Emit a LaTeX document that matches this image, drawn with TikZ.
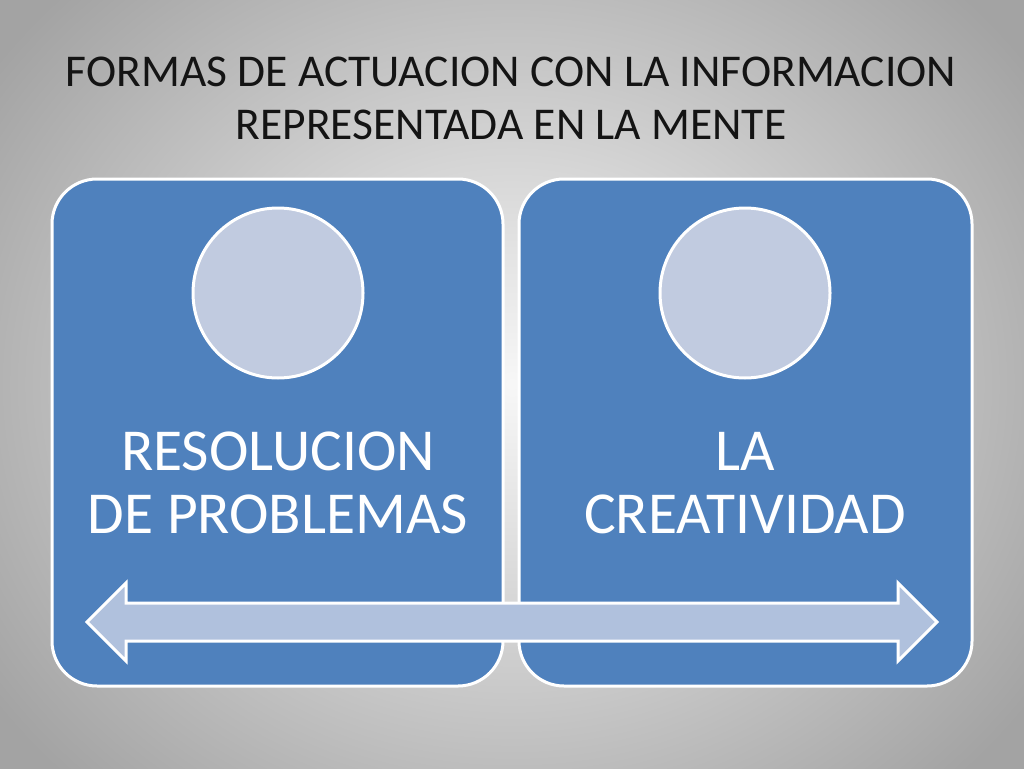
\documentclass[tikz,border=0pt]{standalone}
\usepackage{fontspec}
\setmainfont{Carlito}
\usepackage{xcolor}

\definecolor{boxblue}{HTML}{4F81BD}
\definecolor{discfill}{HTML}{C1CBE0}
\definecolor{arrowfill}{HTML}{B0C1DD}
\definecolor{titleink}{HTML}{141414}

\tikzset{
	panel/.style={draw=white, line width=3pt, fill=boxblue, rounded corners=45pt},
	disc/.style={circle, draw=white, line width=3pt, fill=discfill, minimum size=170pt, inner sep=0pt},
	label/.style={text=white, align=center, font=\fontsize{59.5}{63}\selectfont}
}

\begin{document}
\begin{tikzpicture}[x=1pt, y=-1pt]
		% background
		\useasboundingbox (0,0) rectangle (1024,768);
		\shade[inner color=gray!6, outer color=gray!72] (-120,-170) rectangle (1144,938);
		
		\node[titleink, align=center, font=\fontsize{45.5}{53}\selectfont] (title) at (511,98)
			{FORMAS DE ACTUACION CON LA INFORMACION\\REPRESENTADA EN LA MENTE};
		
		%========================================================================
		% Panels
		\draw[panel] (52,179) rectangle (503,686);
		\draw[panel] (519,179) rectangle (972,686);
		
		\node[disc] (c1) at (278,293) {};
		\node[disc] (c2) at (745,293) {};
		
		\node[label] (t1) at (278,483) {RESOLUCION\\DE PROBLEMAS};
		\node[label] (t2) at (745,483) {LA\\CREATIVIDAD};
		
		%========================================================================
		% Arrow
		\draw[draw=white, line width=3pt, fill=arrowfill, line join=miter]
			(87,622) -- (126,583) -- (126,603) -- (898,603) -- (898,583)
			-- (937,622) -- (898,661) -- (898,641) -- (126,641) -- (126,661) -- cycle;
	\end{tikzpicture}
\end{document}
